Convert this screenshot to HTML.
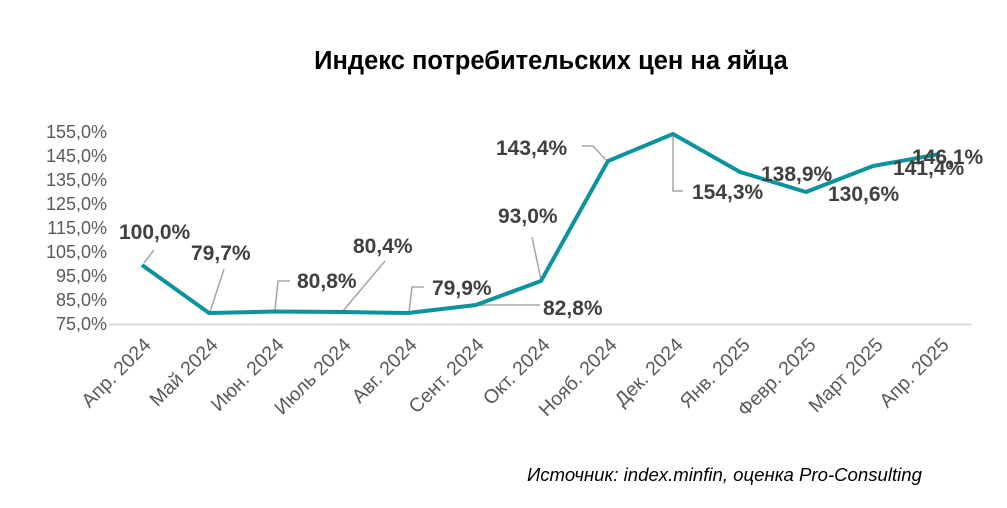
<!DOCTYPE html>
<html><head><meta charset="utf-8"><style>
body{margin:0;background:#fff;}
svg text{font-family:"Liberation Sans",sans-serif;}
</style></head><body>
<svg width="1007" height="503" viewBox="0 0 1007 503" xmlns="http://www.w3.org/2000/svg">
<rect width="1007" height="503" fill="#fff"/>
<text x="551" y="69" text-anchor="middle" font-size="25.5" font-weight="bold" fill="#000">Индекс потребительских цен на яйца</text>
<g font-size="18" fill="#595959" text-anchor="end">
<text x="107" y="330">75,0%</text><text x="107" y="306">85,0%</text><text x="107" y="282">95,0%</text>
<text x="107" y="258">105,0%</text><text x="107" y="234">115,0%</text><text x="107" y="210">125,0%</text>
<text x="107" y="186">135,0%</text><text x="107" y="162">145,0%</text><text x="107" y="138">155,0%</text>
</g>
<line x1="109" y1="324.5" x2="972" y2="324.5" stroke="#d9d9d9" stroke-width="2"/>
<g stroke="#a6a6a6" stroke-width="1.5" fill="none">
<polyline points="144,263 154,250"/>
<polyline points="210,312 224,269"/>
<polyline points="275,310 278,281 290,281"/>
<polyline points="343,311 385,261"/>
<polyline points="409,312 412,287 424,287"/>
<polyline points="475,305 540,305"/>
<polyline points="541,280 532,237"/>
<polyline points="606,160 593,146 582,146"/>
<polyline points="673,134 673,191 683,191"/>
</g>
<polyline points="142,265 209,313 275,311.5 343,312 408,313 476,305 541,281 608,161 673,134 740,172 806,192 873,166 940,154" fill="none" stroke="#0b939e" stroke-width="4" stroke-linejoin="round"/>
<g font-size="21" font-weight="bold" fill="#404040">
<text x="119" y="239">100,0%</text>
<text x="191" y="260">79,7%</text>
<text x="297" y="288">80,8%</text>
<text x="353" y="253">80,4%</text>
<text x="432" y="295">79,9%</text>
<text x="543" y="315">82,8%</text>
<text x="498" y="223">93,0%</text>
<text x="496" y="155">143,4%</text>
<text x="692" y="199">154,3%</text>
<text x="761" y="181">138,9%</text>
<text x="828" y="201">130,6%</text>
<text x="912" y="164">146,1%</text>
<text x="893" y="175">141,4%</text>
</g>
<g font-size="19.5" fill="#595959" text-anchor="end">
<text transform="translate(152,346) rotate(-45)">Апр. 2024</text>
<text transform="translate(219,346) rotate(-45)">Май 2024</text>
<text transform="translate(285,346) rotate(-45)">Июн. 2024</text>
<text transform="translate(352,346) rotate(-45)">Июль 2024</text>
<text transform="translate(418,346) rotate(-45)">Авг. 2024</text>
<text transform="translate(485,346) rotate(-45)">Сент. 2024</text>
<text transform="translate(551,346) rotate(-45)">Окт. 2024</text>
<text transform="translate(618,346) rotate(-45)">Нояб. 2024</text>
<text transform="translate(684,346) rotate(-45)">Дек. 2024</text>
<text transform="translate(751,346) rotate(-45)">Янв. 2025</text>
<text transform="translate(817,346) rotate(-45)">Февр. 2025</text>
<text transform="translate(884,346) rotate(-45)">Март 2025</text>
<text transform="translate(950,346) rotate(-45)">Апр. 2025</text>
</g>
<text x="922" y="481" text-anchor="end" font-size="18.6" font-style="italic" fill="#000">Источник: index.minfin, оценка Pro-Consulting</text>
</svg>
</body></html>
